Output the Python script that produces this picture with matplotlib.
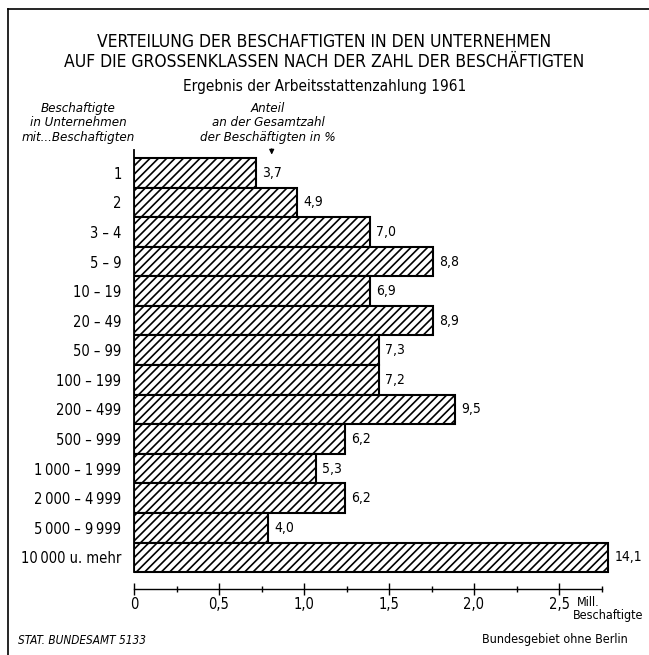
import matplotlib
matplotlib.use("Agg")
import matplotlib.pyplot as plt
from matplotlib.lines import Line2D

plt.rcParams['font.family'] = ['DejaVu Sans']
plt.rcParams['font.stretch'] = 'condensed'
plt.rcParams['hatch.linewidth'] = 1.2

# Daten (Arbeitsstaettenzaehlung 1961)
klassen = ['1', '2', '3 – 4', '5 – 9', '10 – 19', '20 – 49', '50 – 99',
           '100 – 199', '200 – 499', '500 – 999', '1\u2009000 – 1\u2009999',
           '2\u2009000 – 4\u2009999', '5\u2009000 – 9\u2009999',
           '10\u2009000 u. mehr']
mill = [0.72, 0.96, 1.39, 1.76, 1.39, 1.76, 1.44, 1.44, 1.89, 1.24, 1.07,
        1.24, 0.79, 2.79]
anteil = ['3,7', '4,9', '7,0', '8,8', '6,9', '8,9', '7,3', '7,2', '9,5',
          '6,2', '5,3', '6,2', '4,0', '14,1']
xticks = [0, 0.5, 1.0, 1.5, 2.0, 2.5]
xticklabels = ['0', '0,5', '1,0', '1,5', '2,0', '2,5']

W, H = 649, 655
fig = plt.figure(figsize=(W / 100, H / 100), dpi=100)

# axes: x=0 at px 134, 170 px per Mill.; top px 150, bottom px 589
ax = fig.add_axes([134 / W, 1 - 589 / H, 510 / W, 439 / H])
ax.set_xlim(0, 3.0)
ax.set_ylim(14.07, -0.77)

y = list(range(len(klassen)))
ax.barh(y, mill, height=1.0, color='white', edgecolor='black',
        linewidth=1.5, hatch='////')

for i, (v, t) in enumerate(zip(mill, anteil)):
    ax.text(v + 0.035, i, t, va='center', ha='left', fontsize=10)

ax.spines['top'].set_visible(False)
ax.spines['right'].set_visible(False)
ax.spines['left'].set_bounds(-0.77, 13.5)
ax.spines['left'].set_linewidth(1.3)
ax.spines['bottom'].set_bounds(0, 2.75)
ax.spines['bottom'].set_linewidth(1.0)

ax.set_yticks(y)
ax.set_yticklabels(klassen, fontsize=10.5)
ax.tick_params(axis='y', length=0, pad=9)

ax.set_xticks(xticks)
ax.set_xticklabels(xticklabels, fontsize=10.5)
ax.set_xticks([0.25, 0.75, 1.25, 1.75, 2.25, 2.75], minor=True)
ax.tick_params(axis='x', which='major', direction='inout', length=9, width=1.0, pad=1)
ax.tick_params(axis='x', which='minor', direction='inout', length=5, width=1.0)

# arrow to value column
ax.annotate('', xy=(0.81, -0.52), xytext=(0.81, -0.9),
            arrowprops=dict(arrowstyle='-|>', color='black', lw=0.9,
                            mutation_scale=7), annotation_clip=False)

# Titel
fig.text(0.5, 1 - 42 / H, 'VERTEILUNG DER BESCHAFTIGTEN IN DEN UNTERNEHMEN',
         ha='center', va='center', fontsize=12.5)
fig.text(0.5, 1 - 62 / H, 'AUF DIE GROSSENKLASSEN NACH DER ZAHL DER BESCHÄFTIGTEN',
         ha='center', va='center', fontsize=12.5)
fig.text(0.5, 1 - 86 / H, 'Ergebnis der Arbeitsstattenzahlung 1961',
         ha='center', va='center', fontsize=11)

fig.text(78 / W, 1 - 123 / H, 'Beschaftigte\nin Unternehmen\nmit...Beschaftigten',
         ha='center', va='center', fontsize=9.5, style='italic', linespacing=1.15)
fig.text(268 / W, 1 - 123 / H, 'Anteil\nan der Gesamtzahl\nder Beschäftigten in %',
         ha='center', va='center', fontsize=9.5, style='italic', linespacing=1.15)

fig.text(577 / W, 1 - 602 / H, 'Mill.', ha='left', va='center', fontsize=9)
fig.text(643 / W, 1 - 615 / H, 'Beschaftigte', ha='right', va='center', fontsize=9)
fig.text(628 / W, 1 - 640 / H, 'Bundesgebiet ohne Berlin', ha='right',
         va='center', fontsize=9)
fig.text(18 / W, 1 - 640 / H, 'STAT. BUNDESAMT 5133', ha='left', va='center',
         fontsize=8.5, style='italic')

# Rahmen
fig.add_artist(Line2D([8 / W, 8 / W], [0, 1 - 9 / H], transform=fig.transFigure,
                      color='black', lw=1.2))
fig.add_artist(Line2D([8 / W, 1], [1 - 9 / H, 1 - 9 / H], transform=fig.transFigure,
                      color='black', lw=1.2))

fig.savefig('out.png', dpi=100)
